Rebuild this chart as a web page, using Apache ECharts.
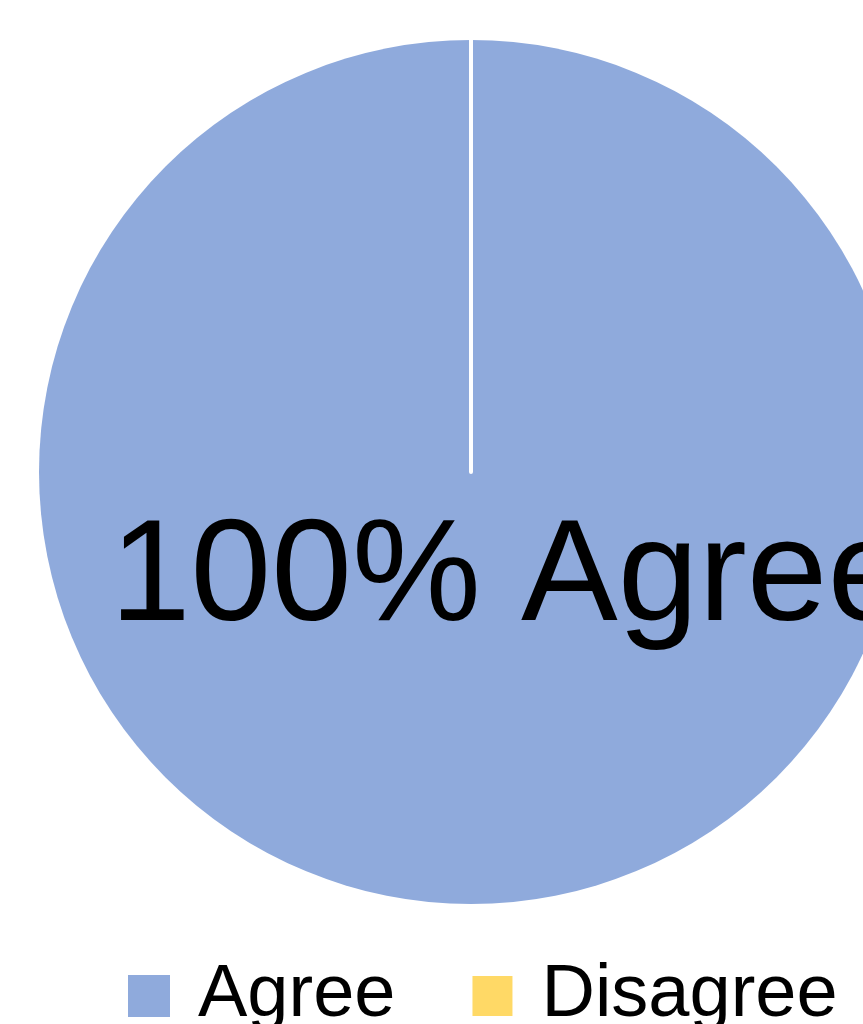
<!DOCTYPE html>
<html>
<head>
<meta charset="utf-8">
<script src="https://cdn.jsdelivr.net/npm/echarts@6/dist/echarts.min.js"></script>
<style>html,body{margin:0;padding:0;background:#fff;}#c{width:863px;height:1024px;}</style>
</head>
<body>
<div id="c"></div>
<script>
var categories = ['Agree', 'Disagree'];
var values = [100, 0];
var colors = ['#8FAADC', '#FFD966'];

var chart = echarts.init(document.getElementById('c'), null, {renderer: 'canvas'});
chart.setOption({
  animation: false,
  color: colors,
  legend: {
    data: categories,
    left: 123,
    top: 954,
    icon: 'rect',
    itemWidth: 42,
    itemHeight: 42,
    itemGap: 75,
    textStyle: {
      fontFamily: 'Liberation Sans',
      fontSize: 74,
      lineHeight: 74,
      color: '#000',
      padding: [0, 0, 0, 23]
    }
  },
  series: [{
    type: 'pie',
    center: [471, 472],
    radius: [0, 432],
    startAngle: 90,
    clockwise: true,
    avoidLabelOverlap: false,
    itemStyle: {borderWidth: 0},
    label: {show: false},
    labelLine: {show: false},
    emphasis: {disabled: true},
    data: categories.map(function (n, i) {
      var d = {name: n, value: values[i]};
      if (i === 0) {
        d.label = {
          show: true,
          position: 'center',
          formatter: function (p) { return Math.round(p.percent) + '% ' + p.name; },
          fontFamily: 'Liberation Sans',
          fontSize: 145,
          color: '#000',
          offset: [38, 108]
        };
      } else {
        d.itemStyle = {borderColor: '#fff', borderWidth: 4};
      }
      return d;
    })
  }]
});
</script>
</body>
</html>
